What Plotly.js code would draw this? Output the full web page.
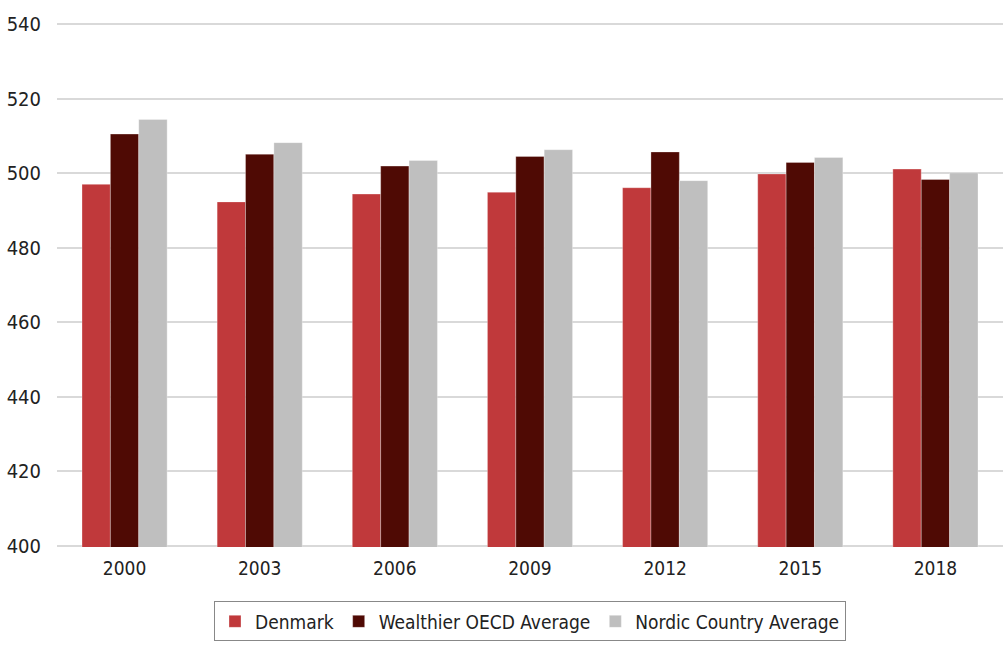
<!DOCTYPE html>
<html>
<head>
<meta charset="utf-8">
<script src="https://cdn.plot.ly/plotly-3.0.1.min.js"></script>
<style>html,body{margin:0;padding:0;background:#fff;}#chart{width:1007px;height:652px;}</style>
</head>
<body>
<div id="chart"></div>
<script>
const years = ["2000", "2003", "2006", "2009", "2012", "2015", "2018"];
const denmark = [497, 492.3, 494.4, 494.9, 496.1, 499.8, 501.1];
const wealthierOECD = [510.5, 505.1, 501.9, 504.5, 505.7, 502.9, 498.3];
const nordicAvg = [514.4, 508.2, 503.4, 506.3, 498.0, 504.2, 500.1];
const yTicks = [400, 420, 440, 460, 480, 500, 520, 540];

const FONT = '"DejaVu Sans Condensed", "Liberation Sans Narrow", Roboto, sans-serif';
const lineStyle = {color: 'rgba(255,255,255,0.5)', width: 0.6};

const traces = [
  {type: 'bar', name: 'Denmark', x: years, y: denmark, marker: {color: '#C0393B', line: lineStyle}},
  {type: 'bar', name: 'Wealthier OECD Average', x: years, y: wealthierOECD, marker: {color: '#4F0A04', line: lineStyle}},
  {type: 'bar', name: 'Nordic Country Average', x: years, y: nordicAvg, marker: {color: '#BFBFBF', line: lineStyle}}
];

const layout = {
  width: 1007, height: 652,
  margin: {l: 57, r: 4, t: 23, b: 105},
  paper_bgcolor: '#fff', plot_bgcolor: '#fff',
  font: {family: FONT, size: 19, color: '#222'},
  barmode: 'group',
  bargap: 0.37,
  bargroupgap: 0,
  showlegend: true,
  legend: {
    orientation: 'h', x: 0.5, xanchor: 'center', y: -0.104, yanchor: 'top',
    bordercolor: '#888', borderwidth: 1, font: {family: FONT, size: 19, color: '#222'},
    traceorder: 'normal', itemwidth: 30
  },
  xaxis: {
    type: 'category', showgrid: false, zeroline: false, showline: false,
    ticks: '', tickfont: {family: FONT, size: 19, color: '#222'}, ticklabelstandoff: 8
  },
  yaxis: {
    range: [399.7, 540.3], tickvals: yTicks, ticktext: yTicks.map(String),
    showgrid: true, gridcolor: '#D9D9D9', gridwidth: 2, zeroline: false, showline: false,
    ticks: '', tickfont: {family: FONT, size: 20, color: '#222'}, ticklabelstandoff: 15
  }
};

Plotly.newPlot('chart', traces, layout, {displayModeBar: false, staticPlot: true});
</script>
</body>
</html>
